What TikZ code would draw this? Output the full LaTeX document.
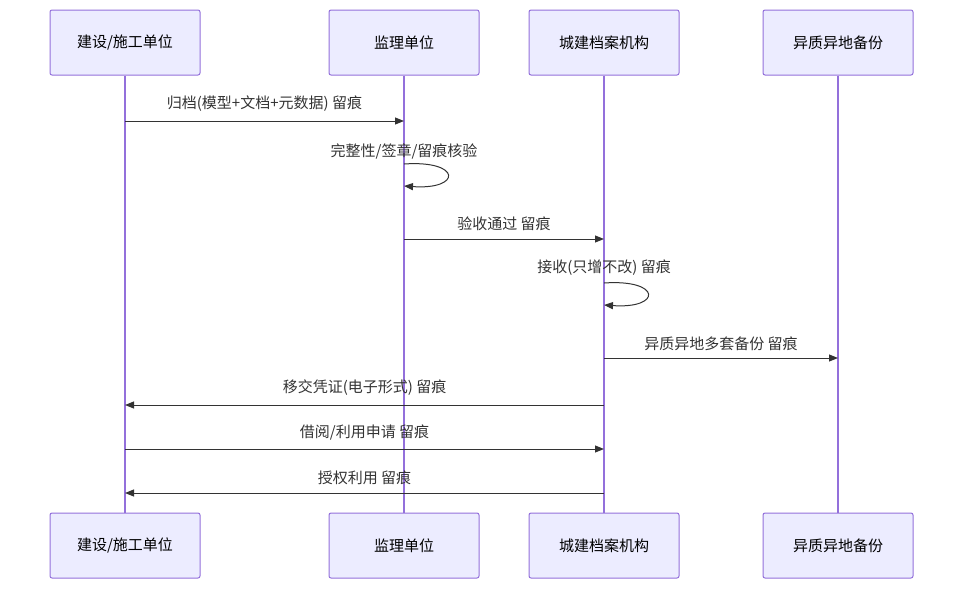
\documentclass[tikz,border=0pt]{standalone}
\usepackage{fontspec}
\setmainfont{Noto Sans CJK SC}
\usetikzlibrary{arrows.meta}
\definecolor{boxfill}{HTML}{ECECFF}
\definecolor{boxline}{HTML}{9370DB}
\definecolor{ink}{HTML}{333333}
\begin{document}
\begin{tikzpicture}[x=1pt,y=-1pt,
  actor/.style={draw=boxline,line width=1pt,fill=boxfill,rounded corners=2pt,minimum width=150pt,minimum height=65pt,font=\fontsize{15}{18}\selectfont,text=black,inner sep=0pt},
  life/.style={draw=boxline,line width=1.3pt},
  msg/.style={draw=ink,line width=1pt,-{Triangle[length=9pt,width=7pt]}},
  lbl/.style={font=\fontsize{15}{18}\selectfont,text=ink,inner sep=0pt}]
\useasboundingbox (0,0) rectangle (963,589);
\foreach \n/\x/\t in {a/125/{建设/施工单位},b/404/监理单位,c/604/城建档案机构,d/838/异质异地备份}{
  \node[actor] (\n top) at (\x,42.5) {\t};
  \node[actor] (\n bot) at (\x,545.5) {\t};
  \draw[life] (\n top.south) -- (\n bot.north);
}
\foreach \n/\x in {a/125,b/404,c/604,d/838}{
  \foreach \y in {121,164,186,239,283,305,358,405,449,493}{
    \coordinate (\n\y) at (\x,\y);
  }
}
\draw[msg] (a121) -- node[lbl,above=9pt]{归档(模型+文档+元数据) 留痕} (b121);
\node[lbl] (l2) at (404,151) {完整性/签章/留痕核验};
\draw[msg] (b164) .. controls (462,160) and (462,190) .. (b186);
\draw[msg] (b239) -- node[lbl,above=8pt]{验收通过 留痕} (c239);
\node[lbl] (l4) at (604,268) {接收(只增不改) 留痕};
\draw[msg] (c283) .. controls (662,279) and (662,309) .. (c305);
\draw[msg] (c358) -- node[lbl,above=7pt]{异质异地多套备份 留痕} (d358);
\draw[msg] (c405) -- node[lbl,above=9pt]{移交凭证(电子形式) 留痕} (a405);
\draw[msg] (a449) -- node[lbl,above=8pt]{借阅/利用申请 留痕} (c449);
\draw[msg] (c493) -- node[lbl,above=8pt]{授权利用 留痕} (a493);
\end{tikzpicture}
\end{document}
